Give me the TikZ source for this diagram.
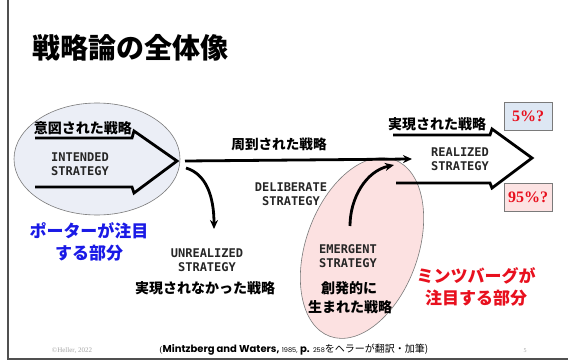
\documentclass[tikz,border=0pt]{standalone}
\usepackage{fontspec}
\setmainfont{Liberation Serif}
\newfontfamily\jp{Noto Sans CJK JP}
\newfontfamily\mono{DejaVu Sans Mono}
\newfontfamily\geo{Poppins}
\usetikzlibrary{arrows.meta,shapes.geometric}
\definecolor{blueT}{HTML}{1A1AE6}
\definecolor{redT}{HTML}{E8101E}
\definecolor{bluefill}{HTML}{EBEEF6}
\definecolor{pinkfill}{HTML}{FCE1E1}
\definecolor{boxblue}{HTML}{DDE7F3}
\definecolor{boxpink}{HTML}{FCE3E3}
\definecolor{edge}{HTML}{7A7A7A}
\definecolor{frame}{HTML}{505050}
\begin{document}
\begin{tikzpicture}[x=1pt,y=-1pt,
  jpb/.style={font=\jp\bfseries\fontsize{14}{16}\selectfont, inner sep=0pt},
  bigjp/.style={font=\jp\bfseries\fontsize{17}{22}\selectfont, inner sep=0pt, align=center},
  caps/.style={font=\mono\bfseries\fontsize{12}{14.5}\selectfont, align=center, inner sep=0pt, text=black!85},
  bigarrow/.style={line width=2.8pt, -{Stealth[length=9pt,width=8pt]}},
  outlinearrow/.style={line width=2.8pt, line join=miter},
  blob/.style={ellipse, draw=edge, line width=0.6pt, inner sep=0pt},
  pctbox/.style={draw=edge, line width=0.6pt, minimum width=48pt, minimum height=28pt, inner sep=0pt,
     text=redT, font=\bfseries\fontsize{16}{18}\selectfont}]
\useasboundingbox (0,0) rectangle (568,361);
\fill[white] (0,0) rectangle (568,361);
% frame
\draw[line width=2pt, frame] (7.5,0) -- (7.5,359) -- (568,359);
% title
\node[anchor=west, inner sep=0pt, font=\jp\bfseries\fontsize{28}{32}\selectfont] (title) at (32,48) {戦略論の全体像};
% ellipses
\node[blob, fill=bluefill, minimum width=166pt, minimum height=112pt] (ellI) at (97,159) {};
\node[blob, fill=pinkfill, minimum width=188pt, minimum height=112pt, rotate=70] (ellE) at (362,248) {};
% intended arrow
\coordinate (iTip) at (177,161);
\draw[outlinearrow] (35,138) -- (132,138) -- (134,131) -- (iTip) -- (134,193) -- (132,187) -- (35,187);
\node[jpb] (intJ) at (83,128) {意図された戦略};
\node[caps] (intE) at (80,164) {INTENDED\\STRATEGY};
% realized arrow
\coordinate (rTip) at (532,158);
\draw[outlinearrow] (393,135) -- (490,135) -- (492,129) -- (rTip) -- (492,188) -- (490,183) -- (396,183);
\node[jpb] (realJ) at (437,124) {実現された戦略};
\node[caps] (realE) at (460,159) {REALIZED\\STRATEGY};
% deliberate
\coordinate (dStart) at (185,161);
\coordinate (dEnd) at (412,159);
\draw[bigarrow] (dStart) -- (dEnd);
\node[jpb, font=\jp\bfseries\fontsize{13.6}{16}\selectfont] (delJ) at (279,144) {周到された戦略};
\node[caps] (delE) at (291,194) {DELIBERATE\\STRATEGY};
% unrealized
\coordinate (uStart) at (186,168);
\coordinate (uEnd) at (214,229);
\draw[bigarrow] (uStart) .. controls (206,174) and (214,196) .. (uEnd);
\node[caps] (unE) at (207,260) {UNREALIZED\\STRATEGY};
\node[jpb] (unJ) at (205,288) {実現されなかった戦略};
% emergent
\coordinate (eStart) at (350,226);
\coordinate (eEnd) at (394,165);
\draw[bigarrow] (eStart) .. controls (350,198) and (366,171) .. (eEnd);
\node[caps] (emE) at (348,256) {EMERGENT\\STRATEGY};
\node[jpb] (emJ1) at (349,288) {創発的に};
\node[jpb] (emJ2) at (350,307) {生まれた戦略};
% comments
\node[bigjp, text=blueT] (porter) at (89,242) {ポーターが注目\\する部分};
\node[bigjp, text=redT] (mintz) at (476,287) {ミンツバーグが\\注目する部分};
% percent boxes
\node[pctbox, fill=boxblue] (p5) at (528,116) {5\%?};
\node[pctbox, fill=boxpink] (p95) at (528,197) {95\%?};
% footer
\node[inner sep=0pt, text=gray!70, font=\fontsize{7}{8}\selectfont] (copy) at (72,351) {©Heller, 2022};
\node[inner sep=0pt] (cite) at (294,350) {{\fontsize{9}{10}\selectfont(}{\geo\bfseries\fontsize{10}{11}\selectfont Mintzberg and Waters,} {\geo\fontsize{6.5}{7}\selectfont 1985,} {\geo\bfseries\fontsize{10}{11}\selectfont p.} {\geo\fontsize{6.5}{7}\selectfont 258}{\jp\fontsize{10}{11}\selectfont をヘラーが翻訳・加筆)}};
\node[inner sep=0pt, text=gray!70, font=\fontsize{6}{7}\selectfont] (page) at (525,351) {5};
\end{tikzpicture}
\end{document}
